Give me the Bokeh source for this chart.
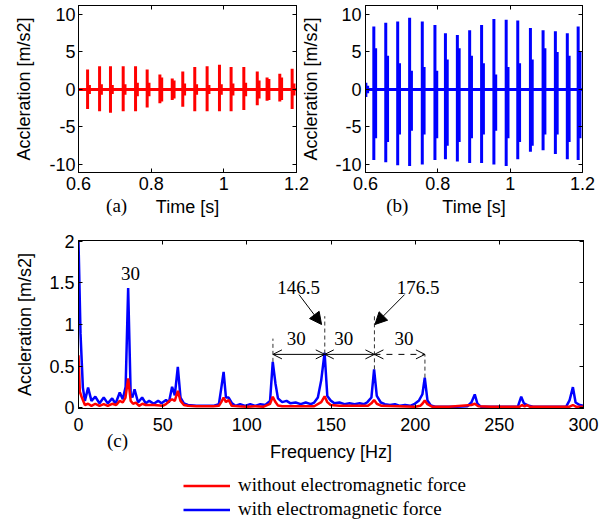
from bokeh.plotting import figure
from bokeh.models import (LinearAxis, FixedTicker, NumeralTickFormatter, Label,
                          Arrow, NormalHead, OpenHead, Legend, LegendItem, Range1d,
                          CustomLabelingPolicy)
from bokeh.layouts import column, row
from bokeh.embed import file_html
from bokeh.resources import INLINE

SANS = "Liberation Sans"
SERIF = "Liberation Serif"

# ---------------- data ----------------
record_t = [0.6, 1.2]
baseline = [0, 0]

# (a) without electromagnetic force: burst times and amplitudes
a_t = [0.625, 0.658, 0.688, 0.723, 0.757, 0.789, 0.824, 0.858, 0.887,
       0.920, 0.954, 0.988, 1.020, 1.055, 1.092, 1.119, 1.154, 1.188]
a_pos = [2.66, 3.1, 3.1, 3.1, 3.1, 2.66, 2.0, 1.45, 2.4,
         3.0, 3.1, 3.3, 3.0, 3.0, 2.4, 1.6, 2.1, 2.75]
a_neg = [-2.6, -2.9, -3.1, -2.9, -2.9, -2.4, -1.85, -1.4, -2.3,
         -2.9, -2.9, -2.9, -2.9, -2.75, -2.1, -1.5, -1.6, -2.6]
a_tail_pos = [0.6, 0.7, 0.6, 0.7, 0.9, 0.9, 1.6, 1.2, 0.8,
              0.7, 0.6, 0.7, 0.8, 0.9, 1.2, 1.4, 1.6, 0.8]
a_tail_neg = [-0.6, -0.7, -0.6, -0.7, -0.9, -0.9, -1.6, -1.2, -0.8,
              -0.7, -0.6, -0.7, -0.8, -0.9, -1.2, -1.4, -1.4, -0.8]

# (b) with electromagnetic force
b_t = [0.601, 0.623, 0.656, 0.689, 0.722, 0.757, 0.792, 0.821, 0.854, 0.888,
       0.921, 0.955, 0.989, 1.021, 1.056, 1.091, 1.125, 1.158, 1.188]
b_pos = [0.9, 8.4, 8.9, 9.05, 9.55, 9.05, 8.6, 7.5, 7.25, 7.9,
         8.6, 9.4, 9.3, 9.2, 8.2, 7.9, 7.75, 7.5, 8.4]
b_neg = [-1.0, -9.4, -9.7, -10.1, -10.2, -10.0, -9.4, -9.3, -9.6, -9.8,
         -9.8, -10.0, -10.2, -9.3, -8.3, -8.1, -8.6, -9.3, -9.4]
b_tail_pos = [0.5, 5.5, 4.5, 3.5, 2.5, 3.0, 2.5, 4.0, 5.5, 4.5,
              3.5, 2.0, 3.0, 3.5, 4.0, 5.5, 5.0, 4.5, 5.0]
b_tail_neg = [-0.5, -6.5, -7.0, -6.0, -5.5, -6.0, -6.5, -7.5, -7.0, -6.5,
              -6.0, -5.5, -6.5, -7.0, -7.5, -6.0, -6.0, -7.0, -6.5]
tail_lag = 0.005

# (c) spectra
blue_f = [0, 1.2, 2.6, 3.8, 5.7, 7.7, 10, 12.5, 15, 17.4,
          20, 22, 24.5, 26.3, 28, 29.5, 31, 32, 33.3, 35.4,
          37.8, 40, 42, 44.7, 47.3, 49.3, 52, 53.7, 55.6, 57.2,
          59, 60.6, 62.6, 65, 70, 75, 80, 83.4, 84.8, 86.2,
          87.6, 89.2, 91.2, 93.2, 96, 99, 102, 105, 108, 111,
          113.8, 115.4, 117, 118.5, 121, 123.6, 126, 129, 132, 135,
          138, 140, 142.2, 144.2, 146.2, 147.8, 149.8, 152, 155, 158,
          161, 164, 167, 169.7, 171.6, 174, 175.6, 177.2, 179.6, 182,
          185, 188, 191, 194, 197, 199.4, 202.3, 204.3, 205.7, 207.3,
          209.3, 212, 216, 220, 225, 231, 233.4, 235.4, 237, 239,
          245, 250, 255, 261, 263, 264.6, 267, 270, 275, 280,
          285, 289.7, 291.7, 293.7, 295.3, 297.7, 300]
blue_a = [2.0, 0.89, 0.24, 0.08, 0.24, 0.08, 0.13, 0.05, 0.12, 0.05,
          0.11, 0.045, 0.18, 0.10, 0.25, 1.44, 0.16, 0.12, 0.22, 0.06,
          0.12, 0.05, 0.08, 0.045, 0.08, 0.05, 0.09, 0.06, 0.25, 0.145,
          0.49, 0.12, 0.05, 0.03, 0.02, 0.02, 0.02, 0.04, 0.23, 0.43,
          0.12, 0.12, 0.05, 0.02, 0.04, 0.02, 0.04, 0.02, 0.04, 0.03,
          0.08, 0.55, 0.29, 0.11, 0.065, 0.08, 0.05, 0.06, 0.04, 0.06,
          0.04, 0.06, 0.12, 0.33, 0.66, 0.14, 0.085, 0.05, 0.06, 0.04,
          0.05, 0.04, 0.05, 0.04, 0.064, 0.12, 0.46, 0.14, 0.06, 0.04,
          0.03, 0.04, 0.02, 0.03, 0.02, 0.04, 0.085, 0.16, 0.36, 0.085,
          0.025, 0.01, 0.01, 0.01, 0.01, 0.015, 0.06, 0.157, 0.045, 0.01,
          0.01, 0.01, 0.01, 0.01, 0.13, 0.05, 0.025, 0.01, 0.01, 0.01,
          0.01, 0.01, 0.085, 0.245, 0.06, 0.03, 0.02]
red_f = [0, 0.8, 2, 3.8, 5.7, 7.7, 10, 12.5, 15, 17.4,
         20, 22.4, 24.5, 26.3, 27.9, 29.5, 31, 32.4, 34, 36,
         38, 40, 45, 50, 52, 54, 55.6, 57.2, 59, 60.6,
         62.6, 65, 70, 80, 83.4, 84.8, 86.2, 87.6, 89.2, 91,
         95, 100, 105, 110, 113.8, 115.4, 117, 118.5, 121, 130,
         140, 144.2, 146.2, 147.8, 149.8, 155, 165, 172, 174, 175.6,
         177.2, 180, 190, 200, 203, 204.3, 205.7, 207.3, 210, 220,
         233.4, 235.4, 237.5, 245, 255, 262, 263.5, 265, 266.5, 268,
         280, 291.7, 293.7, 295.5, 300]
red_a = [0.63, 0.19, 0.12, 0.03, 0.045, 0.02, 0.045, 0.02, 0.04, 0.02,
         0.045, 0.03, 0.08, 0.06, 0.12, 0.35, 0.08, 0.045, 0.06, 0.02,
         0.045, 0.03, 0.03, 0.02, 0.04, 0.08, 0.1, 0.08, 0.2, 0.08,
         0.03, 0.02, 0.015, 0.015, 0.02, 0.065, 0.12, 0.065, 0.09, 0.02,
         0.015, 0.01, 0.015, 0.01, 0.045, 0.13, 0.065, 0.025, 0.015, 0.015,
         0.015, 0.065, 0.135, 0.065, 0.03, 0.02, 0.02, 0.02, 0.05, 0.09,
         0.045, 0.02, 0.015, 0.01, 0.02, 0.045, 0.085, 0.04, 0.01, 0.01,
         0.03, 0.045, 0.015, 0.01, 0.01, 0.01, 0.03, 0.015, 0.03, 0.01,
         0.01, 0.01, 0.03, 0.01, 0.01]

# annotations of (c)
peak_label = "30"
peak_label_xy = (30.9, 1.61)
harm_f = [115.5, 146.3, 175.8, 205.8]
dash_lo = [0.55, 0.65, 0.46, 0.36]
dash_hi = [0.83, 1.10, 1.10, 0.64]
gap_y = 0.64
gap_dash = ["solid", "solid", "dashed"]
gap_labels = ["30", "30", "30"]
gap_label_x = [129.3, 157.6, 193.3]
gap_label_y = 0.83
callout_text = ["146.5", "176.5"]
callout_x = [130.7, 201.7]
callout_y = [1.44, 1.44]
callout_from = [(131.0, 1.36), (193.7, 1.36)]
callout_to = [(144.4, 1.0), (176.1, 1.0)]

time_ticks = [0.6, 0.8, 1.0, 1.2]
acc_ticks = [-10, -5, 0, 5, 10]
freq_ticks = [0, 50, 100, 150, 200, 250, 300]
spec_ticks = [0, 0.5, 1, 1.5, 2]

ylab = "Accleration [m/s2]"
legend_labels = ["without electromagnetic force", "with electromagnetic force"]
legend_colors = ["red", "blue"]
panel_names = ["(a)", "(b)", "(c)"]


# ---------------- helpers ----------------
def no_labels():
    return CustomLabelingPolicy(code="for (const i of indices) { indices.unset(i) }\nreturn indices")


def style(p, xt, yt, xlabel, ylabel, x_standoff, x_lab_standoff, y_standoff, y_lab_standoff):
    p.xgrid.grid_line_color = None
    p.ygrid.grid_line_color = None
    p.outline_line_color = "black"
    p.outline_line_width = 1
    p.outline_line_alpha = 1
    for ax, ticks, lab, st, lst in ((p.below[0], xt, xlabel, x_standoff, x_lab_standoff),
                                    (p.left[0], yt, ylabel, y_standoff, y_lab_standoff)):
        ax.ticker = FixedTicker(ticks=ticks)
        ax.formatter = NumeralTickFormatter(format="0.[0]")
        ax.major_label_text_font = SANS
        ax.major_label_text_font_size = "18px"
        ax.major_label_text_color = "black"
        ax.major_label_standoff = st
        ax.axis_label = lab
        ax.axis_label_text_font = SANS
        ax.axis_label_text_font_size = "18px"
        ax.axis_label_text_font_style = "normal"
        ax.axis_label_text_color = "black"
        ax.axis_label_standoff = lst
        ax.major_tick_in = 4
        ax.major_tick_out = 0
        ax.major_tick_line_color = "black"
        ax.minor_tick_line_color = None
        ax.axis_line_color = "black"
    top = LinearAxis(ticker=FixedTicker(ticks=xt), major_label_text_font_size="0px",
                     major_label_policy=no_labels(),
                     major_label_standoff=0, major_tick_in=4, major_tick_out=0,
                     minor_tick_line_color=None, axis_line_color="black")
    right = LinearAxis(ticker=FixedTicker(ticks=yt), major_label_text_font_size="0px",
                       major_label_policy=no_labels(),
                       major_label_standoff=0, major_tick_in=4, major_tick_out=0,
                       minor_tick_line_color=None, axis_line_color="black")
    p.add_layout(top, "above")
    p.add_layout(right, "right")


def panel_label(p, x, dy, text):
    p.add_layout(Label(x=x, y=-dy, x_units="data", y_units="screen", text=text,
                       text_font=SERIF, text_font_size="19px", text_color="black",
                       text_align="center", text_baseline="middle"), "right")


def note(p, x, y, text):
    p.add_layout(Label(x=x, y=y, text=text, text_font=SERIF, text_font_size="19px",
                       text_color="black", text_align="center", text_baseline="middle"))


# ---------------- (a) ----------------
pa = figure(width=326, height=220, x_range=Range1d(0.6, 1.2), y_range=Range1d(-11.07, 11.2),
            output_backend="svg", toolbar_location=None,
            min_border_left=78, min_border_right=30, min_border_top=5, min_border_bottom=48)
style(pa, time_ticks, acc_ticks, "Time [s]", ylab, 4, 4, 3, 12)
pa.line(record_t, baseline, line_color="red", line_width=3)
pa.segment(x0=a_t, y0=a_neg, x1=a_t, y1=a_pos, line_color="red", line_width=3)
pa.segment(x0=[t + tail_lag for t in a_t], y0=a_tail_neg,
           x1=[t + tail_lag for t in a_t], y1=a_tail_pos, line_color="red", line_width=3)
panel_label(pa, 0.705, 33, panel_names[0])

# ---------------- (b) ----------------
pb = figure(width=312, height=220, x_range=Range1d(0.6, 1.2), y_range=Range1d(-11.07, 11.2),
            output_backend="svg", toolbar_location=None,
            min_border_left=67, min_border_right=28, min_border_top=5, min_border_bottom=48,
            styles={"margin-left": "-28px"})
pb.border_fill_alpha = 0
style(pb, time_ticks, acc_ticks, "Time [s]", ylab, 4, 4, 4, 11)
pb.line(record_t, baseline, line_color="blue", line_width=3)
pb.segment(x0=b_t, y0=b_neg, x1=b_t, y1=b_pos, line_color="blue", line_width=3)
pb.segment(x0=[t + tail_lag for t in b_t], y0=b_tail_neg,
           x1=[t + tail_lag for t in b_t], y1=b_tail_pos, line_color="blue", line_width=3)
panel_label(pb, 0.688, 33, panel_names[1])

# ---------------- (c) ----------------
pc = figure(width=611, height=245, x_range=Range1d(0, 300), y_range=Range1d(-0.012, 2.012),
            output_backend="svg", toolbar_location=None,
            min_border_left=78, min_border_right=28, min_border_top=20, min_border_bottom=57)
style(pc, freq_ticks, spec_ticks, "Frequency [Hz]", ylab, 9, 8, 4, 11)
r_blue = pc.line(blue_f, blue_a, line_color=legend_colors[1], line_width=2.5)
r_red = pc.line(red_f, red_a, line_color=legend_colors[0], line_width=2.5)

note(pc, peak_label_xy[0], peak_label_xy[1], peak_label)
pc.segment(x0=harm_f, y0=dash_lo, x1=harm_f, y1=dash_hi, line_color="#333333",
           line_width=1, line_dash="4 3")
for i in range(3):
    pc.add_layout(Arrow(start=OpenHead(size=9, line_width=1), end=OpenHead(size=9, line_width=1),
                        x_start=harm_f[i], y_start=gap_y, x_end=harm_f[i + 1], y_end=gap_y,
                        line_width=1, line_dash=gap_dash[i], line_color="black"))
    note(pc, gap_label_x[i], gap_label_y, gap_labels[i])
for i in range(2):
    note(pc, callout_x[i], callout_y[i], callout_text[i])
    pc.add_layout(Arrow(end=NormalHead(size=12, fill_color="black", line_color="black"),
                        x_start=callout_from[i][0], y_start=callout_from[i][1],
                        x_end=callout_to[i][0], y_end=callout_to[i][1],
                        line_width=1, line_color="black"))
panel_label(pc, 23.2, 32, panel_names[2])

# ---------------- legend strip ----------------
# key renderers carry the same spectra; the strip's x range lies beyond them,
# so only the legend samples are visible
pl = figure(width=611, height=55, output_backend="svg", toolbar_location=None,
            x_range=Range1d(1000, 1001), y_range=Range1d(0, 1),
            x_axis_location=None, y_axis_location=None,
            min_border_left=0, min_border_right=0, min_border_top=0, min_border_bottom=0)
pl.outline_line_color = None
pl.xgrid.grid_line_color = None
pl.ygrid.grid_line_color = None
pl.border_fill_alpha = 0
pl.background_fill_alpha = 0
key_red = pl.line(x=red_f, y=red_a, line_color=legend_colors[0], line_width=2.5)
key_blue = pl.line(x=blue_f, y=blue_a, line_color=legend_colors[1], line_width=2.5)
legend = Legend(items=[LegendItem(label=legend_labels[0], renderers=[key_red]),
                       LegendItem(label=legend_labels[1], renderers=[key_blue])],
                location=(105, 0), orientation="vertical",
                glyph_width=47, glyph_height=21, label_height=21, label_standoff=8,
                spacing=2, padding=0, margin=0,
                border_line_alpha=0, background_fill_alpha=0,
                label_text_font=SERIF, label_text_font_size="19px", label_text_color="black")
pl.add_layout(legend)

layout = column(row(pa, pb), pc, pl)
open("out.html", "w").write(file_html(layout, INLINE))
